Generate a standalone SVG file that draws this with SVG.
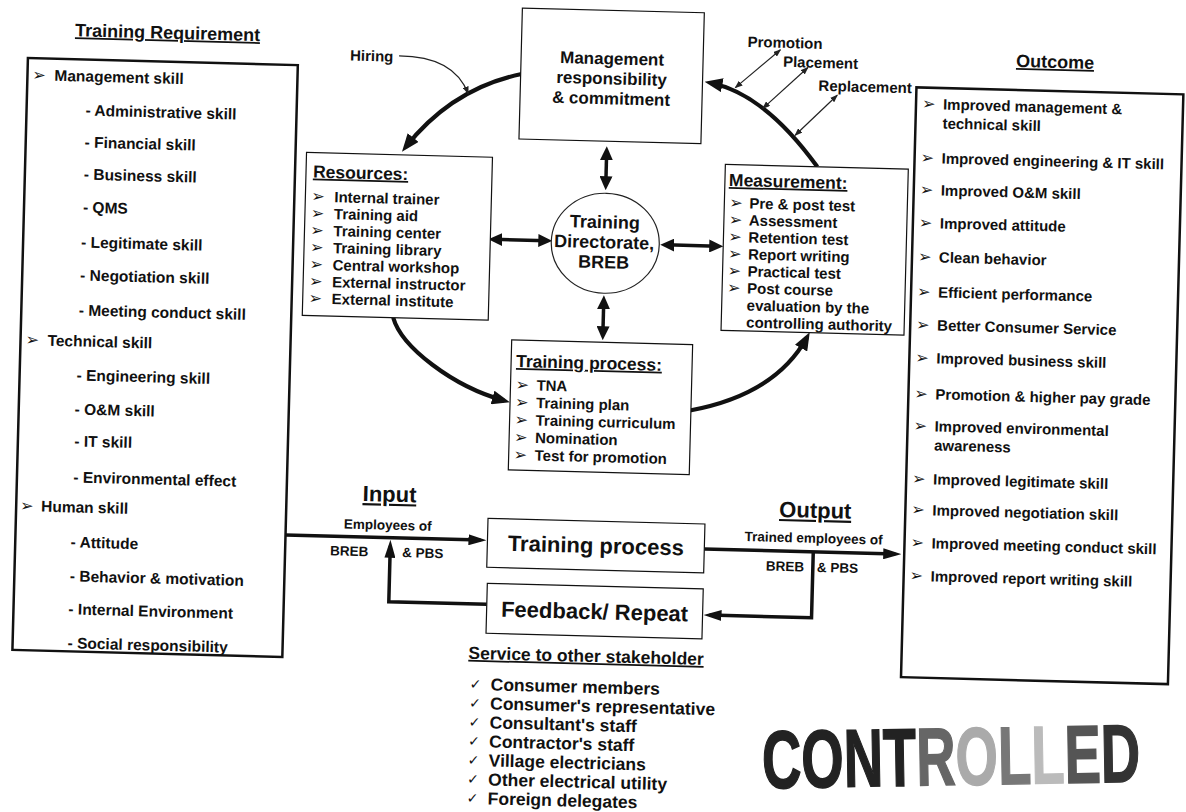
<svg xmlns="http://www.w3.org/2000/svg" width="1186" height="812" viewBox="0 0 1186 812">
<style>
text{font-family:"Liberation Sans",Arial,sans-serif;font-weight:bold;fill:#111}
.ttl{font-size:18px;text-decoration:underline}
.li{font-size:15.5px}
.sm{font-size:15px}
.hd{font-size:17.5px;text-decoration:underline}
.mg{font-size:17px}
.big{font-size:22px}
.bigu{font-size:22px;text-decoration:underline}
.io{font-size:13.5px}
.ck{font-size:17.5px}
.bul{font-family:"DejaVu Sans",sans-serif;font-size:16px;font-weight:normal}
.chk{font-family:"DejaVu Sans",sans-serif;font-size:14px;font-weight:normal}
.box{fill:#fff;stroke:#111;stroke-width:1.2}
.bigbox{fill:#fff;stroke:#111;stroke-width:2.5}
.thick{fill:none;stroke:#111;stroke-width:4.2}
.dbl{fill:none;stroke:#111;stroke-width:3.5}
.thin{fill:none;stroke:#222;stroke-width:1.2}
</style>
<defs>
<marker id="ah" viewBox="0 0 18 14" markerWidth="18" markerHeight="14" refX="12" refY="7" orient="auto" markerUnits="userSpaceOnUse"><path d="M0,0 L18,7 L0,14 z" fill="#111"/></marker>
<marker id="ad" viewBox="0 0 14 13" markerWidth="14" markerHeight="13" refX="8" refY="6.5" orient="auto-start-reverse" markerUnits="userSpaceOnUse"><path d="M0,0 L14,6.5 L0,13 z" fill="#111"/></marker>
<marker id="ai" viewBox="0 0 18 11" markerWidth="18" markerHeight="11" refX="12" refY="5.5" orient="auto" markerUnits="userSpaceOnUse"><path d="M0,0 L18,5.5 L0,11 z" fill="#111"/></marker>
<marker id="at" viewBox="0 0 8 6" markerWidth="8" markerHeight="6" refX="7" refY="3" orient="auto-start-reverse" markerUnits="userSpaceOnUse"><path d="M0,0 L8,3 L0,6 z" fill="#222"/></marker>
<linearGradient id="stampg" gradientUnits="userSpaceOnUse" x1="0" y1="0" x2="569" y2="0">
<stop offset="0" stop-color="#222"/><stop offset="0.407" stop-color="#222"/>
<stop offset="0.407" stop-color="#666"/><stop offset="0.511" stop-color="#666"/>
<stop offset="0.511" stop-color="#aaa"/><stop offset="0.623" stop-color="#aaa"/>
<stop offset="0.623" stop-color="#777"/><stop offset="0.711" stop-color="#777"/>
<stop offset="0.711" stop-color="#bbb"/><stop offset="0.799" stop-color="#bbb"/>
<stop offset="0.799" stop-color="#555"/><stop offset="0.895" stop-color="#555"/>
<stop offset="0.895" stop-color="#333"/><stop offset="1" stop-color="#333"/>
</linearGradient>
</defs>
<rect width="1186" height="812" fill="#fff"/>
<g transform="rotate(1.5 593 406)">
<g id="connectors">
<path class="thick" d="M513,76 Q444,92 399,152" marker-end="url(#ah)"/>
<path class="thin" d="M390,61 Q445,60 460,97" marker-end="url(#at)"/>
<path class="thick" d="M811,161 Q756,89 702,80" marker-end="url(#ah)"/>
<path class="thin" d="M727,84 L771,45" marker-start="url(#at)" marker-end="url(#at)"/>
<path class="thin" d="M755,104 L799,62" marker-start="url(#at)" marker-end="url(#at)"/>
<path class="thin" d="M788,130 L829,89" marker-start="url(#at)" marker-end="url(#at)"/>
<path class="thick" d="M391,323 C400,352 452,390 504,403" marker-end="url(#ah)"/>
<path class="thick" d="M690,408 Q775,390 805,332" marker-end="url(#ah)"/>
<path class="dbl" d="M600,152 V184" marker-start="url(#ad)" marker-end="url(#ad)"/>
<path class="dbl" d="M601,301 V334" marker-start="url(#ad)" marker-end="url(#ad)"/>
<path class="dbl" d="M490,242 H542" marker-start="url(#ad)" marker-end="url(#ad)"/>
<path class="dbl" d="M662,243 H713" marker-start="url(#ad)" marker-end="url(#ad)"/>
<path class="dbl" d="M289,543 H484" marker-end="url(#ai)"/>
<path class="dbl" d="M708,546 H899" marker-end="url(#ai)"/>
<path class="dbl" d="M817,546 V612 H715" marker-end="url(#ai)"/>
<path class="dbl" d="M492,607 H394 V551" marker-end="url(#ai)"/>
</g>
<g id="training-requirement">
<text x="158" y="50" text-anchor="middle" class="ttl">Training Requirement</text>
<rect x="19" y="73" width="270" height="592" class="bigbox"/>
<text class="bul" x="24" y="95">➢</text><text class="li" x="46" y="95">Management skill</text>
<text class="li" x="78" y="129">- Administrative skill</text>
<text class="li" x="78" y="161">- Financial skill</text>
<text class="li" x="78" y="193">- Business skill</text>
<text class="li" x="78" y="226">- QMS</text>
<text class="li" x="77" y="261">- Legitimate skill</text>
<text class="li" x="77" y="294">- Negotiation skill</text>
<text class="li" x="76.5" y="329">- Meeting conduct skill</text>
<text class="bul" x="24" y="360">➢</text><text class="li" x="46" y="360">Technical skill</text>
<text class="li" x="76" y="394">- Engineering skill</text>
<text class="li" x="75" y="428">- O&amp;M skill</text>
<text class="li" x="75.5" y="460">- IT skill</text>
<text class="li" x="75.5" y="496">- Environmental effect</text>
<text class="bul" x="23" y="526">➢</text><text class="li" x="44" y="526">Human skill</text>
<text class="li" x="74.5" y="561">- Attitude</text>
<text class="li" x="74.5" y="595">- Behavior &amp; motivation</text>
<text class="li" x="74" y="628">- Internal Environment</text>
<text class="li" x="74" y="662">- Social responsibility</text>
</g>
<g id="hiring">
<text class="sm" x="341" y="67">Hiring</text>
</g>
<g id="management">
<rect x="512" y="10" width="182" height="131" class="box"/>
<text class="mg" x="603" y="64" text-anchor="middle">Management</text>
<text class="mg" x="603" y="84" text-anchor="middle">responsibility</text>
<text class="mg" x="603" y="104" text-anchor="middle">&amp; commitment</text>
</g>
<g id="promotion-labels">
<text class="sm" x="738" y="43">Promotion</text>
<text class="sm" x="774" y="62">Placement</text>
<text class="sm" x="810" y="85">Replacement</text>
</g>
<g id="resources">
<rect x="300" y="160" width="186" height="163" class="box"/>
<text class="hd" x="307" y="185">Resources:</text>
<text class="bul" x="306" y="209">➢</text><text class="sm" x="329" y="209">Internal trainer</text>
<text class="bul" x="306" y="226">➢</text><text class="sm" x="329" y="226">Training aid</text>
<text class="bul" x="306" y="243">➢</text><text class="sm" x="329" y="243">Training center</text>
<text class="bul" x="306" y="260">➢</text><text class="sm" x="329" y="260">Training library</text>
<text class="bul" x="306" y="277">➢</text><text class="sm" x="329" y="277">Central workshop</text>
<text class="bul" x="306" y="294">➢</text><text class="sm" x="329" y="294">External instructor</text>
<text class="bul" x="306" y="311">➢</text><text class="sm" x="329" y="311">External institute</text>
</g>
<g id="directorate">
<ellipse cx="601" cy="243" rx="54" ry="50" fill="#fff" stroke="#222" stroke-width="1.2"/>
<text x="600" y="228" text-anchor="middle" style="font-size:18px">Training</text>
<text x="600" y="248" text-anchor="middle" style="font-size:18px">Directorate,</text>
<text x="600" y="268" text-anchor="middle" style="font-size:18px">BREB</text>
</g>
<g id="measurement">
<rect x="719" y="161" width="183" height="166" class="box"/>
<text class="hd" x="723" y="182.5">Measurement:</text>
<text class="bul" x="724" y="204.5">➢</text><text class="sm" x="744" y="204.5">Pre &amp; post test</text>
<text class="bul" x="724" y="221.5">➢</text><text class="sm" x="744" y="221.5">Assessment</text>
<text class="bul" x="724" y="238.5">➢</text><text class="sm" x="744" y="238.5">Retention test</text>
<text class="bul" x="724" y="255.5">➢</text><text class="sm" x="744" y="255.5">Report writing</text>
<text class="bul" x="724" y="272.5">➢</text><text class="sm" x="744" y="272.5">Practical test</text>
<text class="bul" x="724" y="289.5">➢</text><text class="sm" x="744" y="289.5">Post course</text>
<text class="sm" x="744" y="306.5">evaluation by the</text>
<text class="sm" x="744" y="323.5">controlling authority</text>
</g>
<g id="training-process-list">
<rect x="510" y="342" width="181" height="130" class="box"/>
<text class="hd" x="515" y="369">Training process:</text>
<text class="bul" x="515" y="392">➢</text><text class="sm" x="536" y="392">TNA</text>
<text class="bul" x="515" y="409.5">➢</text><text class="sm" x="536" y="409.5">Training plan</text>
<text class="bul" x="515" y="427">➢</text><text class="sm" x="536" y="427">Training curriculum</text>
<text class="bul" x="515" y="444.5">➢</text><text class="sm" x="536" y="444.5">Nomination</text>
<text class="bul" x="515" y="462">➢</text><text class="sm" x="536" y="462">Test for promotion</text>
</g>
<g id="outcome">
<text x="1046" y="56" text-anchor="middle" class="ttl">Outcome</text>
<rect x="908" y="79" width="267" height="590" class="bigbox"/>
<text class="bul" x="914" y="100.5">➢</text><text class="sm" x="935" y="100.5">Improved management &amp;</text>
<text class="sm" x="935" y="119.5">technical skill</text>
<text class="bul" x="914" y="154.5">➢</text><text class="sm" x="935" y="154.5">Improved engineering &amp; IT skill</text>
<text class="bul" x="914" y="186.5">➢</text><text class="sm" x="935" y="186.5">Improved O&amp;M skill</text>
<text class="bul" x="914" y="219.5">➢</text><text class="sm" x="935" y="219.5">Improved attitude</text>
<text class="bul" x="914" y="253.5">➢</text><text class="sm" x="935" y="253.5">Clean behavior</text>
<text class="bul" x="914" y="288.5">➢</text><text class="sm" x="935" y="288.5">Efficient performance</text>
<text class="bul" x="914" y="321.5">➢</text><text class="sm" x="935" y="321.5">Better Consumer Service</text>
<text class="bul" x="914" y="354.5">➢</text><text class="sm" x="935" y="354.5">Improved business skill</text>
<text class="bul" x="914" y="390.5">➢</text><text class="sm" x="935" y="390.5">Promotion &amp; higher pay grade</text>
<text class="bul" x="914" y="422.5">➢</text><text class="sm" x="935" y="422.5">Improved environmental</text>
<text class="sm" x="935" y="441.5">awareness</text>
<text class="bul" x="914" y="475.5">➢</text><text class="sm" x="935" y="475.5">Improved legitimate skill</text>
<text class="bul" x="914" y="506.5">➢</text><text class="sm" x="935" y="506.5">Improved negotiation skill</text>
<text class="bul" x="914" y="539.5">➢</text><text class="sm" x="935" y="539.5">Improved meeting conduct skill</text>
<text class="bul" x="914" y="572.5">➢</text><text class="sm" x="935" y="572.5">Improved report writing skill</text>
</g>
<g id="input">
<text class="bigu" x="392" y="507" text-anchor="middle">Input</text>
<text class="io" x="391" y="535" text-anchor="middle">Employees of</text>
<text class="io" x="334" y="562">BREB</text>
<text class="io" x="406" y="562">&amp; PBS</text>
</g>
<g id="training-process">
<rect x="491" y="521" width="217" height="49" class="box"/>
<text class="big" x="599.5" y="553" text-anchor="middle">Training process</text>
</g>
<g id="feedback">
<rect x="492" y="586" width="216" height="50" class="box"/>
<text class="big" x="600" y="619" text-anchor="middle">Feedback/ Repeat</text>
</g>
<g id="output">
<text class="bigu" x="818" y="512" text-anchor="middle">Output</text>
<text class="io" x="817" y="537" text-anchor="middle">Trained employees of</text>
<text class="io" x="770" y="566">BREB</text>
<text class="io" x="821" y="566">&amp; PBS</text>
</g>
<g id="stakeholders">
<text class="hd" x="475" y="662">Service to other stakeholder</text>
<text class="chk" x="477" y="692">✓</text><text class="ck" x="498" y="693">Consumer members</text>
<text class="chk" x="477" y="711">✓</text><text class="ck" x="498" y="712">Consumer's representative</text>
<text class="chk" x="477" y="730">✓</text><text class="ck" x="498" y="731">Consultant's staff</text>
<text class="chk" x="477" y="749">✓</text><text class="ck" x="498" y="750">Contractor's staff</text>
<text class="chk" x="477" y="768">✓</text><text class="ck" x="498" y="769">Village electricians</text>
<text class="chk" x="477" y="787">✓</text><text class="ck" x="498" y="788">Other electrical utility</text>
<text class="chk" x="477" y="806">✓</text><text class="ck" x="498" y="807">Foreign delegates</text>
</g>
</g>
<g id="stamp" transform="rotate(-1 950 755) translate(762 785) scale(0.664 1)">
<text x="0" y="0" style="font-size:82px;fill:url(#stampg);stroke:url(#stampg);stroke-width:1.5">CONTROLLED</text>
</g>
</svg>
